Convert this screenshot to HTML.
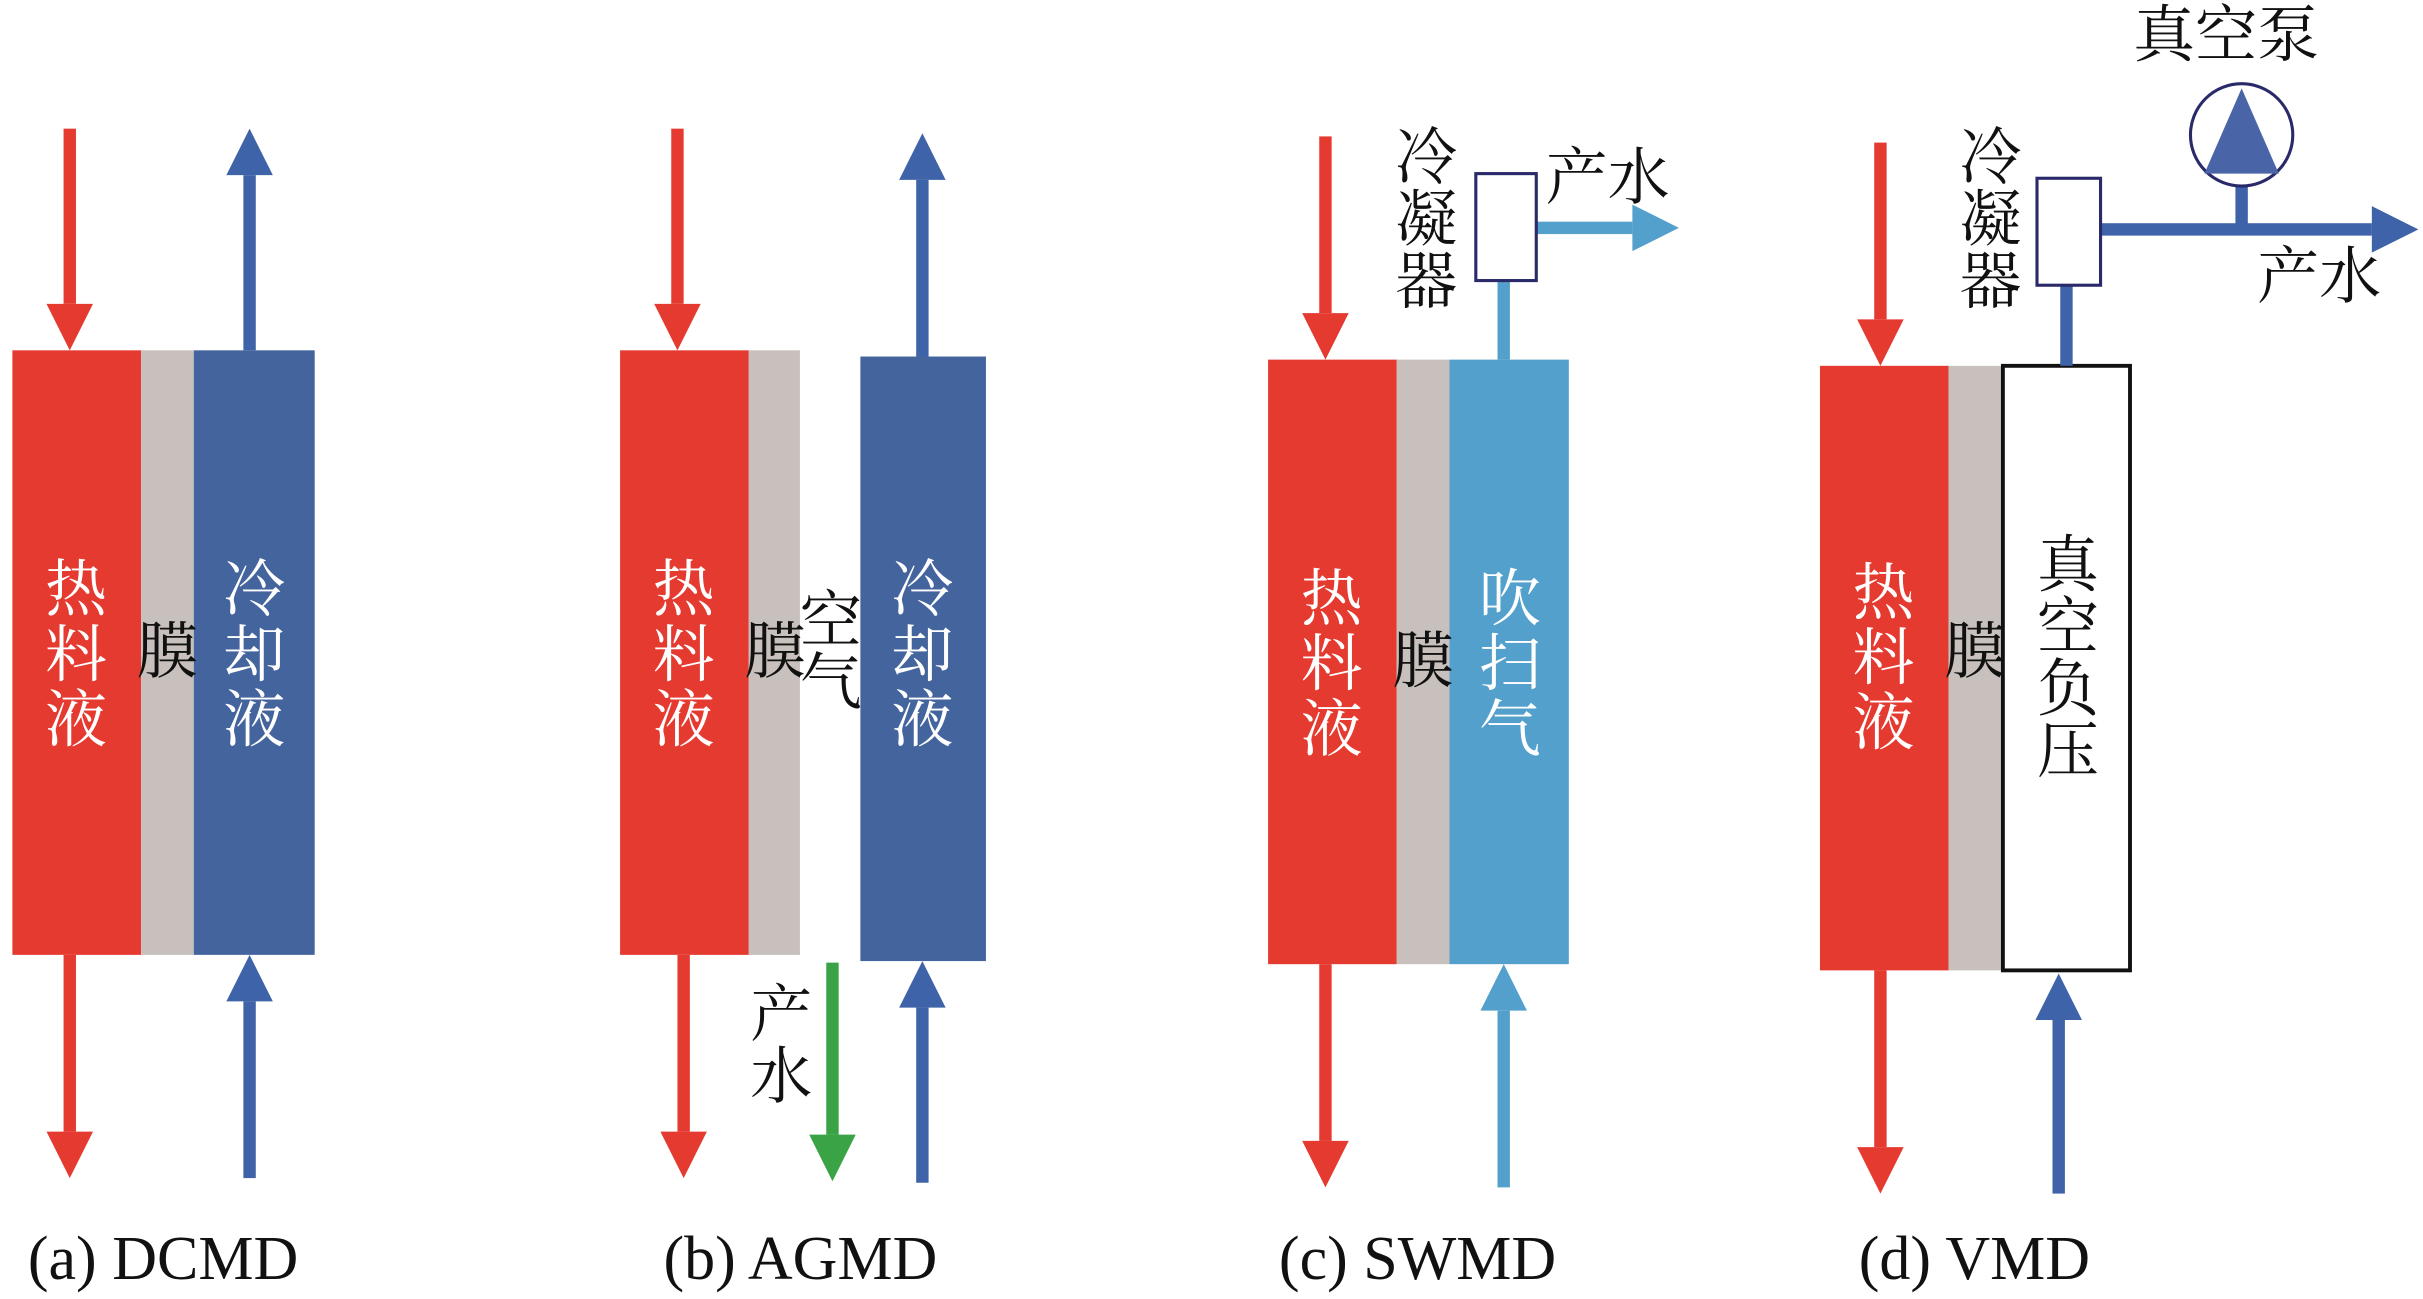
<!DOCTYPE html>
<html><head><meta charset="utf-8"><style>
html,body{margin:0;padding:0;background:#fff;}
svg{display:block;}
.cj{font-family:"Liberation Serif","Noto Serif CJK SC","Noto Sans CJK SC",serif;font-size:40px;}
.cap{font-family:"Liberation Serif",serif;font-size:40px;fill:#111;}
</style></head><body>
<svg width="2423" height="1299" viewBox="0 0 1563 838" preserveAspectRatio="none" xmlns="http://www.w3.org/2000/svg">
<defs>
<g id="dn"><rect x="-4" y="0" width="8" height="1" /></g>
</defs>
<!-- Panel a -->
<rect x="8" y="226" width="83" height="390" fill="#e53a30"/>
<rect x="91" y="226" width="34" height="390" fill="#c8c0bc"/>
<rect x="125" y="226" width="78" height="390" fill="#44649e"/>
<g fill="#e53a30">
<rect x="41" y="83" width="8" height="113"/><polygon points="30,196 60,196 45,226"/>
<rect x="41" y="616" width="8" height="114"/><polygon points="30,730 60,730 45,760"/>
</g>
<g fill="#3f63a8">
<rect x="157" y="113" width="8" height="113"/><polygon points="146,113 176,113 161,83"/>
<rect x="157" y="646" width="8" height="114"/><polygon points="146,646 176,646 161,616"/>
</g>
<g class="cj" fill="#fff" text-anchor="middle"><text x="49" y="394">热</text><text x="49" y="436">料</text><text x="49" y="478">液</text>
<text x="164" y="394">冷</text><text x="164" y="436">却</text><text x="164" y="478">液</text></g>
<text class="cj" x="108" y="434" text-anchor="middle" fill="#111">膜</text>

<!-- Panel b -->
<rect x="400" y="226" width="83" height="390" fill="#e53a30"/>
<rect x="483" y="226" width="33" height="390" fill="#c8c0bc"/>
<rect x="555" y="230" width="81" height="390" fill="#44649e"/>
<g fill="#e53a30">
<rect x="433" y="83" width="8" height="113"/><polygon points="422,196 452,196 437,226"/>
<rect x="437" y="616" width="8" height="114"/><polygon points="426,730 456,730 441,760"/>
</g>
<g fill="#3f63a8">
<rect x="591" y="116" width="8" height="114"/><polygon points="580,116 610,116 595,86"/>
<rect x="591" y="650" width="8" height="113"/><polygon points="580,650 610,650 595,620"/>
</g>
<g fill="#3aa346"><rect x="533" y="621" width="8" height="111"/><polygon points="522,732 552,732 537,762"/></g>
<g class="cj" fill="#fff" text-anchor="middle"><text x="441" y="394">热</text><text x="441" y="436">料</text><text x="441" y="478">液</text>
<text x="595" y="394">冷</text><text x="595" y="436">却</text><text x="595" y="478">液</text></g>
<g class="cj" fill="#111" text-anchor="middle"><text x="500" y="434">膜</text><text x="536" y="414">空</text><text x="536" y="454">气</text>
<text x="504" y="668">产</text><text x="504" y="708">水</text></g>

<!-- Panel c -->
<rect x="818" y="232" width="83" height="390" fill="#e53a30"/>
<rect x="901" y="232" width="34" height="390" fill="#c8c0bc"/>
<rect x="935" y="232" width="77" height="390" fill="#54a0cc"/>
<g fill="#e53a30">
<rect x="851" y="88" width="8" height="114"/><polygon points="840,202 870,202 855,232"/>
<rect x="851" y="622" width="8" height="114"/><polygon points="840,736 870,736 855,766"/>
</g>
<g fill="#54a0cc">
<rect x="966" y="652" width="8" height="114"/><polygon points="955,652 985,652 970,622"/>
<rect x="966" y="181" width="8" height="51"/>
<rect x="991" y="143" width="62" height="8"/><polygon points="1053,132 1053,162 1083,147"/>
</g>
<rect x="952" y="112" width="39" height="69" fill="#fff" stroke="#2a2a6a" stroke-width="2"/>
<g class="cj" fill="#fff" text-anchor="middle"><text x="859" y="400">热</text><text x="859" y="442">料</text><text x="859" y="484">液</text>
<text x="974" y="400">吹</text><text x="974" y="442">扫</text><text x="974" y="484">气</text></g>
<g class="cj" fill="#111" text-anchor="middle"><text x="918" y="440">膜</text>
<text x="920" y="115">冷</text><text x="920" y="155">凝</text><text x="920" y="195">器</text>
<text x="1037" y="128">产水</text></g>

<!-- Panel d -->
<rect x="1174" y="236" width="83" height="390" fill="#e53a30"/>
<rect x="1257" y="236" width="34" height="390" fill="#c8c0bc"/>
<rect x="1292" y="236" width="82" height="390" fill="#fff" stroke="#111" stroke-width="2.5"/>
<g fill="#e53a30">
<rect x="1209" y="92" width="8" height="114"/><polygon points="1198,206 1228,206 1213,236"/>
<rect x="1209" y="626" width="8" height="114"/><polygon points="1198,740 1228,740 1213,770"/>
</g>
<g fill="#3f63a8">
<rect x="1324" y="658" width="8" height="112"/><polygon points="1313,658 1343,658 1328,628"/>
<rect x="1329" y="184" width="8" height="52"/>
<rect x="1355" y="144" width="175" height="8"/><polygon points="1530,133 1530,163 1560,148"/>
<rect x="1442" y="118" width="8" height="30"/>
</g>
<rect x="1314" y="115" width="41" height="69" fill="#fff" stroke="#2a2a6a" stroke-width="2"/>
<circle cx="1446" cy="87" r="33" fill="#fff" stroke="#2a2a6a" stroke-width="2"/>
<polygon points="1446,57 1470,112 1422,112" fill="#4a64a8"/>
<g class="cj" fill="#fff" text-anchor="middle"><text x="1215" y="396">热</text><text x="1215" y="438">料</text><text x="1215" y="480">液</text></g>
<g class="cj" fill="#111" text-anchor="middle"><text x="1274" y="434">膜</text>
<text x="1334" y="378">真</text><text x="1334" y="418">空</text><text x="1334" y="458">负</text><text x="1334" y="498">压</text>
<text x="1284" y="115">冷</text><text x="1284" y="155">凝</text><text x="1284" y="195">器</text>
<text x="1436" y="36">真空泵</text>
<text x="1496" y="192">产水</text></g>

<!-- captions -->
<text class="cap" x="18" y="825">(a) DCMD</text>
<text class="cap" x="428" y="825">(b) AGMD</text>
<text class="cap" x="825" y="825">(c) SWMD</text>
<text class="cap" x="1199" y="825">(d) VMD</text>
</svg>
</body></html>
